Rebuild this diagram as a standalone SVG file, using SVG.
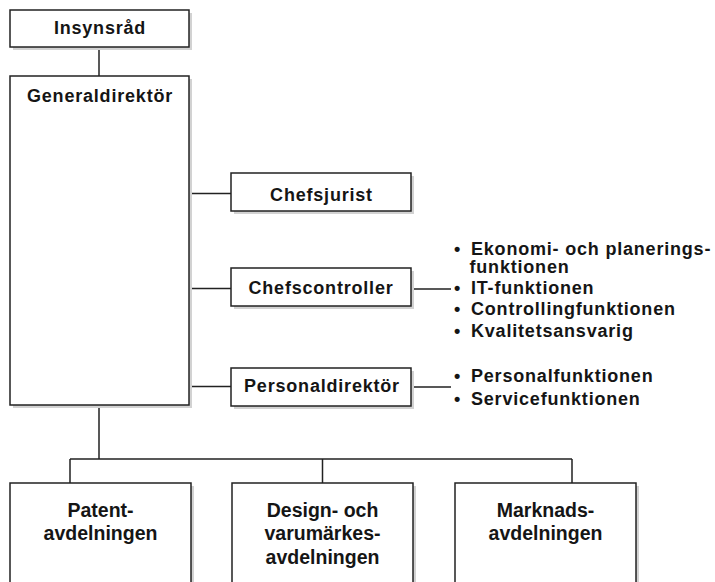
<svg xmlns="http://www.w3.org/2000/svg" width="715" height="582" viewBox="0 0 715 582">
<defs>
<style>
.box{fill:#fff;stroke:#222;stroke-width:1.5}
.sh{fill:#d2d2d2}
.ln{fill:none;stroke:#222;stroke-width:1.5}
.t{font-family:"Liberation Sans",Arial,sans-serif;font-weight:bold;font-size:18px;letter-spacing:0.8px;fill:#151515;text-anchor:middle}
.b{font-family:"Liberation Sans",Arial,sans-serif;font-weight:bold;font-size:19.5px;fill:#151515;text-anchor:middle}
.l{font-family:"Liberation Sans",Arial,sans-serif;font-weight:bold;font-size:18px;letter-spacing:0.8px;fill:#151515}
</style>
</defs>
<rect width="715" height="582" fill="#fff"/>
<g id="connectors">
<path class="ln" d="M99 47V76"/>
<path class="ln" d="M189 193.5H231M189 288.5H231M189 386.5H231"/>
<path class="ln" d="M411 289H451M411 387H451"/>
<path class="ln" d="M99 405V459M70 459H572M70 459V483M322.5 459V483M572 459V483"/>
</g>
<g id="insynsrad">
<rect class="sh" x="13" y="13" width="179" height="37"/>
<rect class="box" x="10" y="10" width="179" height="37"/>
<text class="t" x="100" y="34.3">Insynsråd</text>
</g>
<g id="generaldirektor">
<rect class="sh" x="13" y="79" width="179" height="329"/>
<rect class="box" x="10" y="76" width="179" height="329"/>
<text class="t" x="100" y="101.6">Generaldirektör</text>
</g>
<g id="chefsjurist">
<rect class="sh" x="234" y="176" width="180" height="38"/>
<rect class="box" x="231" y="173" width="180" height="38"/>
<text class="t" x="321.5" y="200.6">Chefsjurist</text>
</g>
<g id="chefscontroller">
<rect class="sh" x="234" y="271" width="180" height="38"/>
<rect class="box" x="231" y="268" width="180" height="38"/>
<text class="t" x="321" y="294.3">Chefscontroller</text>
</g>
<g id="personaldirektor">
<rect class="sh" x="234" y="371" width="180" height="38"/>
<rect class="box" x="231" y="368" width="180" height="38"/>
<text class="t" x="322" y="392.3">Personaldirektör</text>
</g>
<g id="controller-list">
<text class="l" x="454" y="255">•</text><text class="l" x="471" y="255">Ekonomi- och planerings-</text>
<text class="l" x="469.5" y="272.5">funktionen</text>
<text class="l" x="454" y="294">•</text><text class="l" x="471" y="294">IT-funktionen</text>
<text class="l" x="454" y="315">•</text><text class="l" x="471" y="315">Controllingfunktionen</text>
<text class="l" x="454" y="337">•</text><text class="l" x="471" y="337">Kvalitetsansvarig</text>
</g>
<g id="personal-list">
<text class="l" x="454" y="382">•</text><text class="l" x="471" y="382">Personalfunktionen</text>
<text class="l" x="454" y="405">•</text><text class="l" x="471" y="405">Servicefunktionen</text>
</g>
<g id="patent">
<rect class="sh" x="13" y="486" width="181" height="110"/>
<rect class="box" x="10" y="483" width="181" height="110"/>
<text class="b" x="100.5" y="517.3">Patent-</text>
<text class="b" x="100.5" y="540.3">avdelningen</text>
</g>
<g id="design">
<rect class="sh" x="235" y="486" width="181" height="110"/>
<rect class="box" x="232" y="483" width="181" height="110"/>
<text class="b" x="322.5" y="517.3">Design- och</text>
<text class="b" x="322.5" y="540.3">varumärkes-</text>
<text class="b" x="322.5" y="563.5">avdelningen</text>
</g>
<g id="marknad">
<rect class="sh" x="458" y="486" width="181" height="110"/>
<rect class="box" x="455" y="483" width="181" height="110"/>
<text class="b" x="545.5" y="517.3">Marknads-</text>
<text class="b" x="545.5" y="540.3">avdelningen</text>
</g>
</svg>
